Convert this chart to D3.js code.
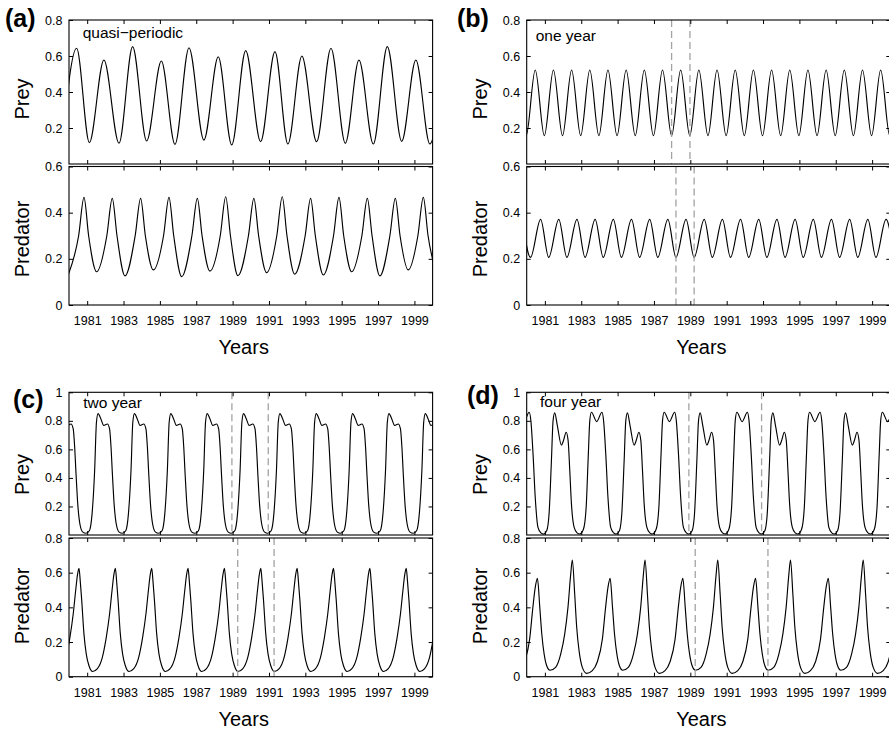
<!DOCTYPE html>
<html><head><meta charset="utf-8">
<script src="https://cdn.jsdelivr.net/npm/d3@7"></script>
<style>
body{margin:0;background:#fff}
svg{display:block}
text{font-family:"Liberation Sans",Arial,Helvetica,sans-serif;fill:#000}
</style></head>
<body><svg id="chart" width="889" height="729"></svg>
<script>
// ---------------- data ----------------
const yearDomain = [1980, 2000];
const xTickYears = [1981,1983,1985,1987,1989,1991,1993,1995,1997,1999];
const panelLetters = ["(a)","(b)","(c)","(d)"];
const panelNotes = ["quasi\u2212periodic","one year","two year","four year"];
const preyTicksAB = [0.2,0.4,0.6,0.8];
const predTicksAB = [0,0.2,0.4,0.6];
const preyTicksCD = [0.2,0.4,0.6,0.8,1];
const predTicksCD = [0,0.2,0.4,0.6,0.8];

const preyA = [[1979.63,0.12],[1980.42,0.643],[1981.12,0.119],[1981.92,0.578],[1982.75,0.115],[1983.50,0.652],[1984.27,0.128],[1985.08,0.572],[1985.83,0.109],[1986.60,0.646],[1987.42,0.133],[1988.21,0.596],[1988.95,0.106],[1989.72,0.630],[1990.54,0.124],[1991.33,0.624],[1992.04,0.111],[1992.81,0.600],[1993.62,0.124],[1994.41,0.643],[1995.20,0.115],[1995.95,0.578],[1996.74,0.111],[1997.51,0.652],[1998.30,0.126],[1999.08,0.578],[1999.85,0.111],[2000.6,0.6]];

const predatorA = [[1979.97,0.133],
[1980.53,0.30],[1980.825,0.466],[1981.08,0.30],[1981.52,0.144],
[1982.08,0.30],[1982.38,0.462],[1982.64,0.30],[1983.08,0.126],
[1983.64,0.30],[1983.94,0.462],[1984.20,0.30],[1984.64,0.152],
[1985.20,0.30],[1985.50,0.466],[1985.76,0.30],[1986.20,0.123],
[1986.76,0.30],[1987.06,0.462],[1987.32,0.30],[1987.75,0.147],
[1988.32,0.30],[1988.62,0.469],[1988.88,0.30],[1989.29,0.127],
[1989.87,0.30],[1990.17,0.462],[1990.43,0.30],[1990.87,0.140],
[1991.43,0.30],[1991.73,0.469],[1991.99,0.30],[1992.41,0.134],
[1992.99,0.30],[1993.29,0.462],[1993.55,0.30],[1993.99,0.130],
[1994.55,0.30],[1994.85,0.466],[1995.11,0.30],[1995.55,0.144],
[1996.11,0.30],[1996.41,0.462],[1996.67,0.30],[1997.10,0.126],
[1997.65,0.30],[1997.95,0.462],[1998.21,0.30],[1998.66,0.152],
[1999.19,0.30],[1999.49,0.466],[1999.75,0.30],[2000.25,0.128]];

const preyB = [[1979.47,0.522],[1979.97,0.157],[1980.47,0.522],[1980.97,0.157],[1981.47,0.522],[1981.97,0.157],[1982.47,0.522],[1982.97,0.157],[1983.47,0.522],[1983.97,0.157],[1984.47,0.522],[1984.97,0.157],[1985.47,0.522],[1985.97,0.157],[1986.47,0.522],[1986.97,0.157],[1987.47,0.522],[1987.97,0.157],[1988.47,0.522],[1988.97,0.157],[1989.47,0.522],[1989.97,0.157],[1990.47,0.522],[1990.97,0.157],[1991.47,0.522],[1991.97,0.157],[1992.47,0.522],[1992.97,0.157],[1993.47,0.522],[1993.97,0.157],[1994.47,0.522],[1994.97,0.157],[1995.47,0.522],[1995.97,0.157],[1996.47,0.522],[1996.97,0.157],[1997.47,0.522],[1997.97,0.157],[1998.47,0.522],[1998.97,0.157],[1999.47,0.522],[1999.97,0.157],[2000.47,0.522]];

const predatorB = [[1979.765,0.371],[1980.21,0.206],[1980.765,0.371],[1981.21,0.206],[1981.765,0.371],[1982.21,0.206],[1982.765,0.371],[1983.21,0.206],[1983.765,0.371],[1984.21,0.206],[1984.765,0.371],[1985.21,0.206],[1985.765,0.371],[1986.21,0.206],[1986.765,0.371],[1987.21,0.206],[1987.765,0.371],[1988.21,0.206],[1988.765,0.371],[1989.21,0.206],[1989.765,0.371],[1990.21,0.206],[1990.765,0.371],[1991.21,0.206],[1991.765,0.371],[1992.21,0.206],[1992.765,0.371],[1993.21,0.206],[1993.765,0.371],[1994.21,0.206],[1994.765,0.371],[1995.21,0.206],[1995.765,0.371],[1996.21,0.206],[1996.765,0.371],[1997.21,0.206],[1997.765,0.371],[1998.21,0.206],[1998.765,0.371],[1999.21,0.206],[1999.765,0.371],[2000.21,0.206]];

const preyC = [
[1979.75,0.815],[1979.91,0.768],[1980.11,0.778],[1980.23,0.745],[1980.31,0.62],[1980.39,0.42],[1980.48,0.22],[1980.61,0.07],[1980.76,0.02],
[1980.93,0.012],[1981.12,0.03],[1981.27,0.15],[1981.41,0.45],[1981.51,0.79],[1981.60,0.851],[1981.75,0.815],[1981.91,0.768],[1982.11,0.778],[1982.23,0.745],[1982.31,0.62],[1982.39,0.42],[1982.48,0.22],[1982.61,0.07],[1982.76,0.02],
[1982.93,0.012],[1983.12,0.03],[1983.27,0.15],[1983.41,0.45],[1983.51,0.79],[1983.60,0.851],[1983.75,0.815],[1983.91,0.768],[1984.11,0.778],[1984.23,0.745],[1984.31,0.62],[1984.39,0.42],[1984.48,0.22],[1984.61,0.07],[1984.76,0.02],
[1984.93,0.012],[1985.12,0.03],[1985.27,0.15],[1985.41,0.45],[1985.51,0.79],[1985.60,0.851],[1985.75,0.815],[1985.91,0.768],[1986.11,0.778],[1986.23,0.745],[1986.31,0.62],[1986.39,0.42],[1986.48,0.22],[1986.61,0.07],[1986.76,0.02],
[1986.93,0.012],[1987.12,0.03],[1987.27,0.15],[1987.41,0.45],[1987.51,0.79],[1987.60,0.851],[1987.75,0.815],[1987.91,0.768],[1988.11,0.778],[1988.23,0.745],[1988.31,0.62],[1988.39,0.42],[1988.48,0.22],[1988.61,0.07],[1988.76,0.02],
[1988.93,0.012],[1989.12,0.03],[1989.27,0.15],[1989.41,0.45],[1989.51,0.79],[1989.60,0.851],[1989.75,0.815],[1989.91,0.768],[1990.11,0.778],[1990.23,0.745],[1990.31,0.62],[1990.39,0.42],[1990.48,0.22],[1990.61,0.07],[1990.76,0.02],
[1990.93,0.012],[1991.12,0.03],[1991.27,0.15],[1991.41,0.45],[1991.51,0.79],[1991.60,0.851],[1991.75,0.815],[1991.91,0.768],[1992.11,0.778],[1992.23,0.745],[1992.31,0.62],[1992.39,0.42],[1992.48,0.22],[1992.61,0.07],[1992.76,0.02],
[1992.93,0.012],[1993.12,0.03],[1993.27,0.15],[1993.41,0.45],[1993.51,0.79],[1993.60,0.851],[1993.75,0.815],[1993.91,0.768],[1994.11,0.778],[1994.23,0.745],[1994.31,0.62],[1994.39,0.42],[1994.48,0.22],[1994.61,0.07],[1994.76,0.02],
[1994.93,0.012],[1995.12,0.03],[1995.27,0.15],[1995.41,0.45],[1995.51,0.79],[1995.60,0.851],[1995.75,0.815],[1995.91,0.768],[1996.11,0.778],[1996.23,0.745],[1996.31,0.62],[1996.39,0.42],[1996.48,0.22],[1996.61,0.07],[1996.76,0.02],
[1996.93,0.012],[1997.12,0.03],[1997.27,0.15],[1997.41,0.45],[1997.51,0.79],[1997.60,0.851],[1997.75,0.815],[1997.91,0.768],[1998.11,0.778],[1998.23,0.745],[1998.31,0.62],[1998.39,0.42],[1998.48,0.22],[1998.61,0.07],[1998.76,0.02],
[1998.93,0.012],[1999.12,0.03],[1999.27,0.15],[1999.41,0.45],[1999.51,0.79],[1999.60,0.851],[1999.75,0.815],[1999.91,0.768],[2000.11,0.778],[2000.23,0.745]];

const predatorC = [
[1979.55,0.045],[1979.83,0.11],[1980.05,0.227],[1980.23,0.36],[1980.37,0.50],[1980.47,0.59],
[1980.55,0.625],[1980.62,0.55],[1980.70,0.44],[1980.82,0.25],[1980.95,0.13],[1981.10,0.063],[1981.30,0.03],[1981.55,0.045],[1981.83,0.11],[1982.05,0.227],[1982.23,0.36],[1982.37,0.50],[1982.47,0.59],
[1982.55,0.625],[1982.62,0.55],[1982.70,0.44],[1982.82,0.25],[1982.95,0.13],[1983.10,0.063],[1983.30,0.03],[1983.55,0.045],[1983.83,0.11],[1984.05,0.227],[1984.23,0.36],[1984.37,0.50],[1984.47,0.59],
[1984.55,0.625],[1984.62,0.55],[1984.70,0.44],[1984.82,0.25],[1984.95,0.13],[1985.10,0.063],[1985.30,0.03],[1985.55,0.045],[1985.83,0.11],[1986.05,0.227],[1986.23,0.36],[1986.37,0.50],[1986.47,0.59],
[1986.55,0.625],[1986.62,0.55],[1986.70,0.44],[1986.82,0.25],[1986.95,0.13],[1987.10,0.063],[1987.30,0.03],[1987.55,0.045],[1987.83,0.11],[1988.05,0.227],[1988.23,0.36],[1988.37,0.50],[1988.47,0.59],
[1988.55,0.625],[1988.62,0.55],[1988.70,0.44],[1988.82,0.25],[1988.95,0.13],[1989.10,0.063],[1989.30,0.03],[1989.55,0.045],[1989.83,0.11],[1990.05,0.227],[1990.23,0.36],[1990.37,0.50],[1990.47,0.59],
[1990.55,0.625],[1990.62,0.55],[1990.70,0.44],[1990.82,0.25],[1990.95,0.13],[1991.10,0.063],[1991.30,0.03],[1991.55,0.045],[1991.83,0.11],[1992.05,0.227],[1992.23,0.36],[1992.37,0.50],[1992.47,0.59],
[1992.55,0.625],[1992.62,0.55],[1992.70,0.44],[1992.82,0.25],[1992.95,0.13],[1993.10,0.063],[1993.30,0.03],[1993.55,0.045],[1993.83,0.11],[1994.05,0.227],[1994.23,0.36],[1994.37,0.50],[1994.47,0.59],
[1994.55,0.625],[1994.62,0.55],[1994.70,0.44],[1994.82,0.25],[1994.95,0.13],[1995.10,0.063],[1995.30,0.03],[1995.55,0.045],[1995.83,0.11],[1996.05,0.227],[1996.23,0.36],[1996.37,0.50],[1996.47,0.59],
[1996.55,0.625],[1996.62,0.55],[1996.70,0.44],[1996.82,0.25],[1996.95,0.13],[1997.10,0.063],[1997.30,0.03],[1997.55,0.045],[1997.83,0.11],[1998.05,0.227],[1998.23,0.36],[1998.37,0.50],[1998.47,0.59],
[1998.55,0.625],[1998.62,0.55],[1998.70,0.44],[1998.82,0.25],[1998.95,0.13],[1999.10,0.063],[1999.30,0.03],[1999.55,0.045],[1999.83,0.11],[2000.05,0.227]];

const preyD = [
[1979.56,0.86],[1979.85,0.795],[1980.14,0.86],[1980.23,0.80],[1980.35,0.565],[1980.47,0.263],[1980.62,0.053],[1980.78,0.015],
[1980.92,0.007],[1981.10,0.03],[1981.23,0.147],[1981.36,0.52],[1981.45,0.80],[1981.54,0.856],[1981.69,0.763],[1981.91,0.63],[1982.02,0.66],[1982.17,0.72],[1982.28,0.66],[1982.37,0.45],[1982.46,0.22],[1982.61,0.053],[1982.77,0.015],
[1982.92,0.007],[1983.12,0.04],[1983.27,0.193],[1983.39,0.565],[1983.47,0.80],[1983.56,0.86],[1983.85,0.795],[1984.14,0.86],[1984.23,0.80],[1984.35,0.565],[1984.47,0.263],[1984.62,0.053],[1984.78,0.015],
[1984.92,0.007],[1985.10,0.03],[1985.23,0.147],[1985.36,0.52],[1985.45,0.80],[1985.54,0.856],[1985.69,0.763],[1985.91,0.63],[1986.02,0.66],[1986.17,0.72],[1986.28,0.66],[1986.37,0.45],[1986.46,0.22],[1986.61,0.053],[1986.77,0.015],
[1986.92,0.007],[1987.12,0.04],[1987.27,0.193],[1987.39,0.565],[1987.47,0.80],[1987.56,0.86],[1987.85,0.795],[1988.14,0.86],[1988.23,0.80],[1988.35,0.565],[1988.47,0.263],[1988.62,0.053],[1988.78,0.015],
[1988.92,0.007],[1989.10,0.03],[1989.23,0.147],[1989.36,0.52],[1989.45,0.80],[1989.54,0.856],[1989.69,0.763],[1989.91,0.63],[1990.02,0.66],[1990.17,0.72],[1990.28,0.66],[1990.37,0.45],[1990.46,0.22],[1990.61,0.053],[1990.77,0.015],
[1990.92,0.007],[1991.12,0.04],[1991.27,0.193],[1991.39,0.565],[1991.47,0.80],[1991.56,0.86],[1991.85,0.795],[1992.14,0.86],[1992.23,0.80],[1992.35,0.565],[1992.47,0.263],[1992.62,0.053],[1992.78,0.015],
[1992.92,0.007],[1993.10,0.03],[1993.23,0.147],[1993.36,0.52],[1993.45,0.80],[1993.54,0.856],[1993.69,0.763],[1993.91,0.63],[1994.02,0.66],[1994.17,0.72],[1994.28,0.66],[1994.37,0.45],[1994.46,0.22],[1994.61,0.053],[1994.77,0.015],
[1994.92,0.007],[1995.12,0.04],[1995.27,0.193],[1995.39,0.565],[1995.47,0.80],[1995.56,0.86],[1995.85,0.795],[1996.14,0.86],[1996.23,0.80],[1996.35,0.565],[1996.47,0.263],[1996.62,0.053],[1996.78,0.015],
[1996.92,0.007],[1997.10,0.03],[1997.23,0.147],[1997.36,0.52],[1997.45,0.80],[1997.54,0.856],[1997.69,0.763],[1997.91,0.63],[1998.02,0.66],[1998.17,0.72],[1998.28,0.66],[1998.37,0.45],[1998.46,0.22],[1998.61,0.053],[1998.77,0.015],
[1998.92,0.007],[1999.12,0.04],[1999.27,0.193],[1999.39,0.565],[1999.47,0.80],[1999.56,0.86],[1999.85,0.795],[2000.14,0.86],[2000.23,0.80]];

const predatorD = [
[1979.30,0.019],[1979.61,0.035],[1979.88,0.085],[1980.16,0.215],[1980.34,0.40],[1980.47,0.515],
[1980.59,0.567],[1980.72,0.40],[1980.83,0.246],[1980.96,0.13],[1981.10,0.063],[1981.28,0.037],[1981.59,0.054],[1981.87,0.13],[1982.09,0.246],[1982.27,0.40],[1982.42,0.59],
[1982.51,0.673],[1982.64,0.477],[1982.75,0.285],[1982.88,0.15],[1983.06,0.054],[1983.30,0.019],[1983.61,0.035],[1983.88,0.085],[1984.16,0.215],[1984.34,0.40],[1984.47,0.515],
[1984.59,0.567],[1984.72,0.40],[1984.83,0.246],[1984.96,0.13],[1985.10,0.063],[1985.28,0.037],[1985.59,0.054],[1985.87,0.13],[1986.09,0.246],[1986.27,0.40],[1986.42,0.59],
[1986.51,0.673],[1986.64,0.477],[1986.75,0.285],[1986.88,0.15],[1987.06,0.054],[1987.30,0.019],[1987.61,0.035],[1987.88,0.085],[1988.16,0.215],[1988.34,0.40],[1988.47,0.515],
[1988.59,0.567],[1988.72,0.40],[1988.83,0.246],[1988.96,0.13],[1989.10,0.063],[1989.28,0.037],[1989.59,0.054],[1989.87,0.13],[1990.09,0.246],[1990.27,0.40],[1990.42,0.59],
[1990.51,0.673],[1990.64,0.477],[1990.75,0.285],[1990.88,0.15],[1991.06,0.054],[1991.30,0.019],[1991.61,0.035],[1991.88,0.085],[1992.16,0.215],[1992.34,0.40],[1992.47,0.515],
[1992.59,0.567],[1992.72,0.40],[1992.83,0.246],[1992.96,0.13],[1993.10,0.063],[1993.28,0.037],[1993.59,0.054],[1993.87,0.13],[1994.09,0.246],[1994.27,0.40],[1994.42,0.59],
[1994.51,0.673],[1994.64,0.477],[1994.75,0.285],[1994.88,0.15],[1995.06,0.054],[1995.30,0.019],[1995.61,0.035],[1995.88,0.085],[1996.16,0.215],[1996.34,0.40],[1996.47,0.515],
[1996.59,0.567],[1996.72,0.40],[1996.83,0.246],[1996.96,0.13],[1997.10,0.063],[1997.28,0.037],[1997.59,0.054],[1997.87,0.13],[1998.09,0.246],[1998.27,0.40],[1998.42,0.59],
[1998.51,0.673],[1998.64,0.477],[1998.75,0.285],[1998.88,0.15],[1999.06,0.054],[1999.30,0.019],[1999.61,0.035],[1999.88,0.085],[2000.16,0.215]];

const dashPreyB = [1987.97, 1988.98], dashPredB = [1988.21, 1989.21];
const dashPreyC = [1988.96, 1990.96], dashPredC = [1989.28, 1991.28];
const dashPreyD = [1988.92, 1992.92], dashPredD = [1989.27, 1993.27];

// ---------------- layout ----------------
const W = 363.6;
const panels = [
 {left:69,    prey:[20,164],    pred:[166.5,305],  preyMax:0.8, predMax:0.6, preyT:preyTicksAB, predT:predTicksAB,
  preySeries:preyA, predSeries:predatorA, dPrey:[], dPred:[], letter:[5,27], note:[82.7,37.5], preyLab:99, predLab:239},
 {left:526.7, prey:[20,164],    pred:[166.5,305],  preyMax:0.8, predMax:0.6, preyT:preyTicksAB, predT:predTicksAB,
  preySeries:preyB, predSeries:predatorB, dPrey:dashPreyB, dPred:dashPredB, letter:[457,27], note:[535.7,40.5], preyLab:99, predLab:239},
 {left:69,    prey:[392.3,535], pred:[538,676.7],  preyMax:1, predMax:0.8, preyT:preyTicksCD, predT:predTicksCD,
  preySeries:preyC, predSeries:predatorC, dPrey:dashPreyC, dPred:dashPredC, letter:[13,408], note:[83.3,407.5], preyLab:474.5, predLab:606},
 {left:526.7, prey:[392.3,535], pred:[538,676.7],  preyMax:1, predMax:0.8, preyT:preyTicksCD, predT:predTicksCD,
  preySeries:preyD, predSeries:predatorD, dPrey:dashPreyD, dPred:dashPredD, letter:[467,404], note:[540,406.7], preyLab:474.5, predLab:606}
];

const svg = d3.select("#chart");
const fmt = v => v === 0 ? "0" : (v === 1 ? "1" : v.toFixed(1));
let clipId = 0;

function subplot(p, x, top, bottom, maxV, ticks, series, dashes, withXLabels){
  const y = d3.scaleLinear().domain([0, maxV]).range([bottom, top]);
  const g = svg.append("g");
  const id = "clip" + (clipId++);
  svg.append("clipPath").attr("id", id).append("rect")
    .attr("x", p.left).attr("y", top).attr("width", W).attr("height", bottom - top);
  const line = d3.line().x(d => x(d[0])).y(d => y(d[1])).curve(d3.curveMonotoneX);
  g.append("path").datum(series).attr("clip-path", `url(#${id})`)
    .attr("d", line).attr("fill", "none").attr("stroke", "#000").attr("stroke-width", 1.15);
  g.selectAll("line.dash").data(dashes).enter().append("line")
    .attr("x1", d => x(d)).attr("x2", d => x(d)).attr("y1", top).attr("y2", bottom)
    .attr("stroke", "#a3a3a3").attr("stroke-width", 1.3).attr("stroke-dasharray", "7,4");
  // axes
  const ax = (gen, tx, ty) => {
    const a = g.append("g").attr("transform", `translate(${tx},${ty})`).call(gen);
    a.select(".domain").remove();
    a.selectAll("line").attr("stroke", "#000");
    a.selectAll("text").attr("font-size", "12.5px").attr("fill", "#000").attr("font-family", null);
    return a;
  };
  ax(d3.axisLeft(y).tickValues(ticks).tickSize(-4).tickPadding(6.5).tickFormat(fmt), p.left, 0);
  ax(d3.axisRight(y).tickValues(ticks).tickSize(-4).tickFormat(""), p.left + W, 0);
  ax(d3.axisTop(x).tickValues(xTickYears).tickSize(-4).tickFormat(""), 0, top);
  ax(d3.axisBottom(x).tickValues(xTickYears).tickSize(-4).tickPadding(11.5)
      .tickFormat(withXLabels ? d3.format("d") : ""), 0, bottom);
  g.append("rect").attr("x", p.left).attr("y", top).attr("width", W).attr("height", bottom - top)
    .attr("fill", "none").attr("stroke", "#000").attr("stroke-width", 1.1);
}

panels.forEach((p, i) => {
  const x = d3.scaleLinear().domain(yearDomain).range([p.left, p.left + W]);
  subplot(p, x, p.prey[0], p.prey[1], p.preyMax, p.preyT, p.preySeries, p.dPrey, false);
  subplot(p, x, p.pred[0], p.pred[1], p.predMax, p.predT, p.predSeries, p.dPred, true);
  svg.append("text").attr("x", p.letter[0]).attr("y", p.letter[1])
    .attr("font-size", "25px").attr("font-weight", "bold").text(panelLetters[i]);
  svg.append("text").attr("x", p.note[0]).attr("y", p.note[1])
    .attr("font-size", "15.5px").text(panelNotes[i]);
  svg.append("text").attr("transform", `translate(${p.left - 39.7},${p.preyLab}) rotate(-90)`)
    .attr("text-anchor", "middle").attr("font-size", "20px").text("Prey");
  svg.append("text").attr("transform", `translate(${p.left - 39.7},${p.predLab}) rotate(-90)`)
    .attr("text-anchor", "middle").attr("font-size", "20px").text("Predator");
  svg.append("text").attr("x", p.left + 174.7).attr("y", p.pred[1] + 49)
    .attr("text-anchor", "middle").attr("font-size", "20px").text("Years");
});
</script></body></html>
